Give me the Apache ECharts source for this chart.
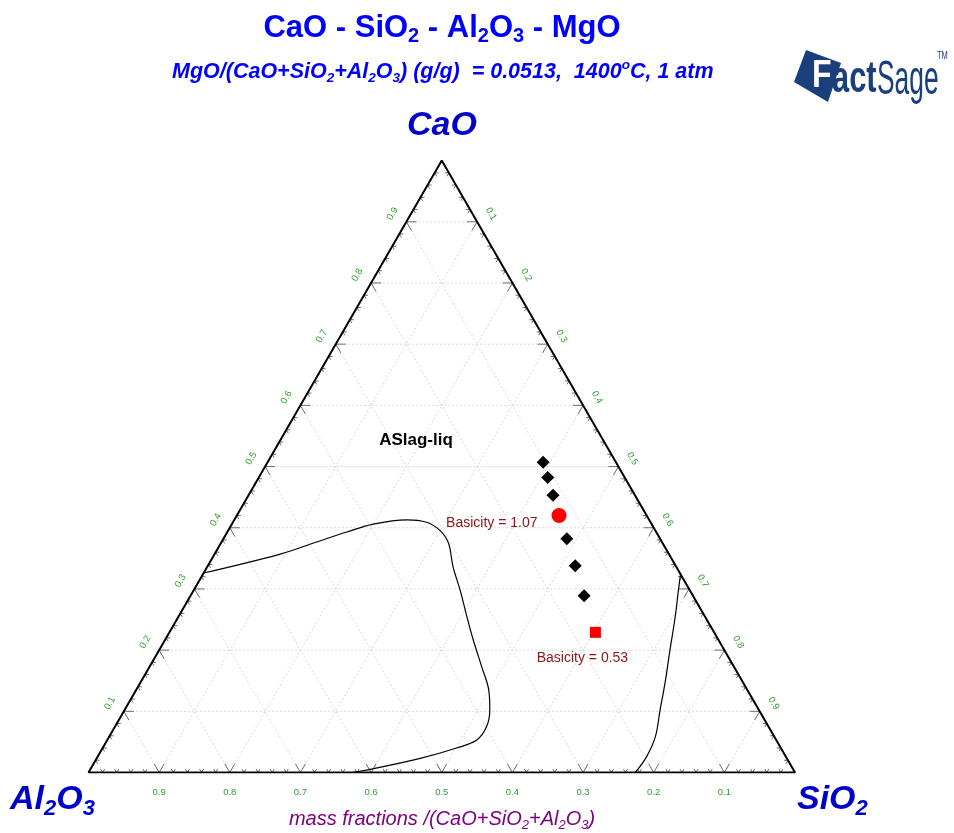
<!DOCTYPE html>
<html><head><meta charset="utf-8">
<script src="https://cdn.jsdelivr.net/npm/echarts@6/dist/echarts.min.js"></script>
<style>html,body{margin:0;padding:0;background:#fff}#c{width:954px;height:833px}</style>
</head><body><div id="c"></div>
<script>
// ---- data (mass fractions; Al2O3 = 1 - CaO - SiO2) ----
const tickValues = [0.1, 0.2, 0.3, 0.4, 0.5, 0.6, 0.7, 0.8, 0.9];
const tickLabels = ['0.1', '0.2', '0.3', '0.4', '0.5', '0.6', '0.7', '0.8', '0.9'];
const vertexCaO  = [1, 0, 0, 1];
const vertexSiO2 = [0, 1, 0, 0];
const liquidCaO  = [0.507, 0.482, 0.453, 0.382, 0.338, 0.289];
const liquidSiO2 = [0.390, 0.409, 0.431, 0.486, 0.520, 0.557];
const basicHighCaO  = [0.420];
const basicHighSiO2 = [0.456];
const basicLowCaO   = [0.229];
const basicLowSiO2  = [0.603];
const leftBoundaryCaO  = [0.326, 0.357, 0.375, 0.393, 0.406, 0.413, 0.409, 0.396, 0.375, 0.336, 0.298, 0.255, 0.217, 0.173, 0.135, 0.102, 0.075, 0.053, 0.040, 0.023, 0.005, 0.000];
const leftBoundarySiO2 = [0.000, 0.093, 0.131, 0.169, 0.200, 0.244, 0.274, 0.299, 0.322, 0.348, 0.377, 0.408, 0.436, 0.470, 0.499, 0.517, 0.526, 0.523, 0.501, 0.458, 0.396, 0.373];
const rightBoundaryCaO  = [0.324, 0.298, 0.255, 0.200, 0.146, 0.102, 0.059, 0.026, 0.000];
const rightBoundarySiO2 = [0.676, 0.686, 0.703, 0.723, 0.743, 0.758, 0.773, 0.777, 0.774];
const phaseLabelCaO = [0.543];
const phaseLabelSiO2 = [0.192];
const phaseLabelText = ['ASlag-liq'];

// ---- ternary -> cartesian (x along base, y up) ----
const H = Math.sqrt(3) / 2;
function tern(c, s) { return [s + c / 2, c * H]; }
function pts(cArr, sArr) { return cArr.map((c, i) => tern(c, sArr[i])); }

// grid line segments [c1,s1,c2,s2]
const gridSeg = [];
tickValues.forEach(t => {
  gridSeg.push([t, 0, t, 1 - t]);       // CaO constant
  gridSeg.push([0, t, 1 - t, t]);       // SiO2 constant
  gridSeg.push([0, 1 - t, 1 - t, 0]);   // Al2O3 constant
});
// tick marks [c, s, edge, major]
const tickSeg = [];
for (let i = 1; i < 50; i++) {
  const t = i / 50, major = (i % 5 === 0) ? 1 : 0;
  tickSeg.push([0, 1 - t, 0, major]);   // base (Al2O3 = t)
  tickSeg.push([t, 0, 1, major]);       // left (CaO = t)
  tickSeg.push([t, 1 - t, 2, major]);   // right (CaO = t)
}
// tick label anchors [c, s, edge, labelIndex]
const tickLab = [];
tickValues.forEach((t, i) => {
  tickLab.push([0, 1 - t, 0, i]);       // base: Al2O3
  tickLab.push([t, 0, 1, i]);           // left: CaO
  tickLab.push([1 - t, t, 2, i]);       // right: SiO2
});

const DIRS = [
  [[-0.5, -0.866], [0.5, -0.866]],
  [[1, 0], [0.5, 0.866]],
  [[-1, 0], [-0.5, 0.866]]
];
const LABOFF = [[0, 20, 0], [-13.9, -8, Math.PI / 3], [13.9, -8, -Math.PI / 3]];

const FONT = 'Liberation Sans, Arial, sans-serif';
const chart = echarts.init(document.getElementById('c'));

function richTxt(size, subSize, color, italic, lh, slh) {
  const base = {fontSize: size, fontWeight: 'bold', fontStyle: italic ? 'italic' : 'normal', fontFamily: FONT, fill: color, color: color, lineHeight: lh};
  return {
    m: base,
    s: Object.assign({}, base, {fontSize: subSize, lineHeight: slh, verticalAlign: 'bottom'}),
    u: Object.assign({}, base, {fontSize: subSize, lineHeight: slh, verticalAlign: 'top'})
  };
}

const NAVY = '#1b3f7c';
chart.setOption({
  animation: false,
  grid: {left: 88.5, right: 159, top: 160.6, bottom: 60.5},
  xAxis: {type: 'value', min: 0, max: 1, show: false},
  yAxis: {type: 'value', min: 0, max: H, show: false},
  graphic: [
    {type: 'text', x: 442, y: 28, style: {
      text: '{m|CaO - SiO}{s|2}{m| - Al}{s|2}{m|O}{s|3}{m| - MgO}',
      rich: richTxt(31, 20, '#0000ff', false, 36, 19), align: 'center', verticalAlign: 'middle', textAlign: 'center', textVerticalAlign: 'middle'}},
    {type: 'text', x: 172, y: 72, style: {
      text: '{m|MgO/(CaO+SiO}{s|2}{m|+Al}{s|2}{m|O}{s|3}{m|) (g/g)  = 0.0513,  1400}{u|o}{m|C, 1 atm}',
      rich: richTxt(21.5, 13.5, '#0000ff', true, 27, 13.5), align: 'left', verticalAlign: 'middle', textAlign: 'left', textVerticalAlign: 'middle'}},
    // vertex labels
    {type: 'text', x: 442, y: 126, style: {
      text: '{m|CaO}', rich: richTxt(34, 22, '#0000cc', true, 40, 17), align: 'center', verticalAlign: 'middle', textAlign: 'center', textVerticalAlign: 'middle'}},
    {type: 'text', x: 10, y: 800, style: {
      text: '{m|Al}{s|2}{m|O}{s|3}', rich: richTxt(34, 22, '#0000cc', true, 40, 17), align: 'left', verticalAlign: 'middle', textAlign: 'left', textVerticalAlign: 'middle'}},
    {type: 'text', x: 797, y: 800, style: {
      text: '{m|SiO}{s|2}', rich: richTxt(34, 22, '#0000cc', true, 40, 17), align: 'left', verticalAlign: 'middle', textAlign: 'left', textVerticalAlign: 'middle'}},
    // axis title
    {type: 'text', x: 442, y: 819, style: {
      text: '{m|mass fractions /(CaO+SiO}{s|2}{m|+Al}{s|2}{m|O}{s|3}{m|)}',
      rich: (function(){ const r = richTxt(20, 13, '#800080', true, 26, 13); r.m.fontWeight = 'normal'; r.s.fontWeight = 'normal'; return r; })(),
      align: 'center', verticalAlign: 'middle', textAlign: 'center', textVerticalAlign: 'middle'}},
    // FactSage logo
    {type: 'polygon', shape: {points: [[806, 50], [841, 63], [828, 102], [794, 82]]}, style: {fill: NAVY}},
    {type: 'text', x: 812, y: 96, scaleX: 0.82, style: {text: 'F', font: 'bold 39px ' + FONT, fill: '#ffffff', stroke: NAVY, lineWidth: 1.5, align: 'left', verticalAlign: 'bottom', textAlign: 'left', textVerticalAlign: 'bottom'}},
    {type: 'text', x: 832, y: 102, scaleX: 0.7, style: {text: 'act', font: 'bold 44px ' + FONT, fill: NAVY, align: 'left', verticalAlign: 'bottom', textAlign: 'left', textVerticalAlign: 'bottom'}},
    {type: 'text', x: 877, y: 105, scaleX: 0.55, style: {text: 'Sage', font: '48px ' + FONT, fill: NAVY, align: 'left', verticalAlign: 'bottom', textAlign: 'left', textVerticalAlign: 'bottom'}},
    {type: 'text', x: 937, y: 61, scaleX: 0.75, style: {text: 'TM', font: '10px ' + FONT, fill: NAVY, align: 'left', verticalAlign: 'bottom', textAlign: 'left', textVerticalAlign: 'bottom'}}
  ],
  series: [
    {type: 'custom', clip: false, silent: true, z: 1, data: gridSeg,
      renderItem: (p, api) => {
        const a = api.coord(tern(api.value(0), api.value(1)));
        const b = api.coord(tern(api.value(2), api.value(3)));
        return {type: 'line', shape: {x1: a[0], y1: a[1], x2: b[0], y2: b[1]}, style: {stroke: '#d8d8d8', lineWidth: 1, lineDash: [2, 2]}};
      }},
    {type: 'custom', clip: false, silent: true, z: 2, data: tickSeg,
      renderItem: (p, api) => {
        const q = api.coord(tern(api.value(0), api.value(1)));
        const d = DIRS[api.value(2)], L = api.value(3) ? 10 : 4;
        return {type: 'group', children: d.map(v => ({type: 'line',
          shape: {x1: q[0], y1: q[1], x2: q[0] + v[0] * L, y2: q[1] + v[1] * L},
          style: {stroke: '#6e6e6e', lineWidth: 1}}))};
      }},
    {type: 'custom', clip: false, silent: true, z: 3, data: tickLab,
      renderItem: (p, api) => {
        const q = api.coord(tern(api.value(0), api.value(1)));
        const o = LABOFF[api.value(2)];
        return {type: 'text', x: q[0] + o[0], y: q[1] + o[1], rotation: o[2],
          style: {text: tickLabels[api.value(3)], font: '9.5px ' + FONT, fill: '#2f9e2f',
            align: 'center', verticalAlign: 'middle', textAlign: 'center', textVerticalAlign: 'middle'}};
      }},
    {type: 'line', data: pts(vertexCaO, vertexSiO2), symbol: 'none', z: 4, silent: true,
      lineStyle: {color: '#000', width: 2}},
    {type: 'line', data: pts(leftBoundaryCaO, leftBoundarySiO2), symbol: 'none', smooth: 0.35, z: 4, silent: true,
      lineStyle: {color: '#000', width: 1.2}},
    {type: 'line', data: pts(rightBoundaryCaO, rightBoundarySiO2), symbol: 'none', smooth: 0.35, z: 4, silent: true,
      lineStyle: {color: '#000', width: 1.2}},
    {type: 'scatter', data: pts(liquidCaO, liquidSiO2), symbol: 'diamond', symbolSize: 13, z: 5,
      itemStyle: {color: '#000', opacity: 1}},
    {type: 'scatter', data: pts(basicHighCaO, basicHighSiO2), symbol: 'circle', symbolSize: 15, z: 5,
      itemStyle: {color: '#ff0000', opacity: 1},
      label: {show: true, position: 'left', distance: 14, offset: [0, 8], formatter: 'Basicity = 1.07',
        color: '#8c1414', opacity: 1, fontSize: 14, fontFamily: FONT}},
    {type: 'scatter', data: pts(basicLowCaO, basicLowSiO2), symbol: 'rect', symbolSize: 11, z: 5,
      itemStyle: {color: '#ff0000', opacity: 1},
      label: {show: true, position: 'bottom', distance: 13, offset: [-13, 0], formatter: 'Basicity = 0.53',
        color: '#8c1414', opacity: 1, fontSize: 14, fontFamily: FONT}},
    {type: 'scatter', data: pts(phaseLabelCaO, phaseLabelSiO2), symbolSize: 0, z: 5,
      itemStyle: {opacity: 1},
      label: {show: true, position: 'inside', formatter: p => phaseLabelText[p.dataIndex],
        color: '#000', opacity: 1, fontSize: 17, fontWeight: 'bold', fontFamily: FONT}}
  ]
});
</script></body></html>
